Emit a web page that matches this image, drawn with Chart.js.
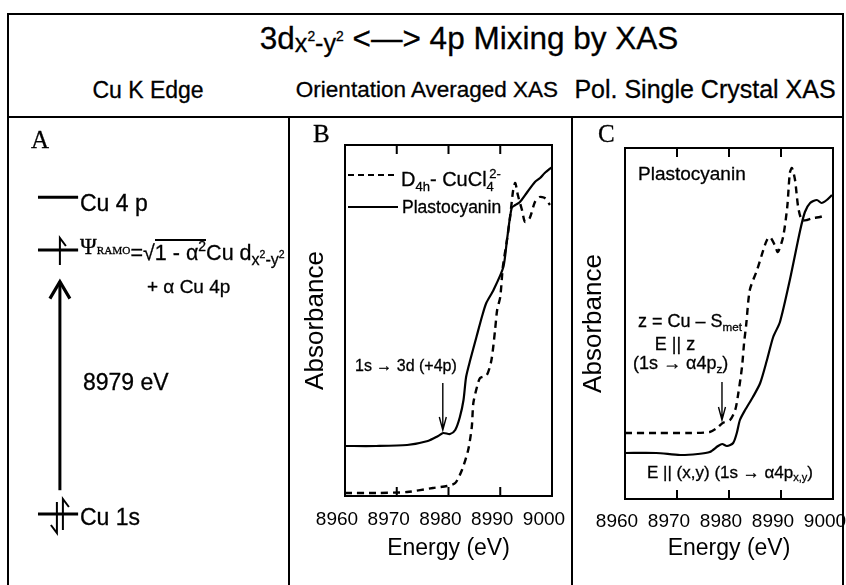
<!DOCTYPE html>
<html>
<head>
<meta charset="utf-8">
<script src="https://cdn.jsdelivr.net/npm/chart.js@4.4.1/dist/chart.umd.min.js"></script>
<style>
html, body { margin: 0; padding: 0; background: #fff; }
#fig { position: relative; width: 846px; height: 585px; overflow: hidden; font-family: 'Liberation Sans', Arial, sans-serif; color: #000; }
.ln { position: absolute; background: #000; }
.t { position: absolute; white-space: nowrap; line-height: 1; -webkit-text-stroke: 0.3px #000; }
.serif { font-family: 'Liberation Serif', 'Times New Roman', serif; }
.sub { font-size: 0.65em; position: relative; top: 0.35em; }
.sup { font-size: 0.65em; position: relative; top: -0.6em; }
canvas { position: absolute; }
</style>
</head>
<body>
<div id="fig">
  <!-- frame -->
  <div class="ln" style="left:7px;top:13px;width:837px;height:2px"></div>
  <div class="ln" style="left:7px;top:13px;width:2px;height:600px"></div>
  <div class="ln" style="left:842px;top:13px;width:2px;height:600px"></div>
  <div class="ln" style="left:7px;top:116px;width:837px;height:2px"></div>
  <div class="ln" style="left:288px;top:116px;width:2px;height:500px"></div>
  <div class="ln" style="left:571px;top:116px;width:2px;height:500px"></div>

  <canvas id="chartA" width="278" height="467" style="left:10px;top:118px"></canvas>
  <canvas id="chartB" width="283" height="468" style="left:289px;top:117px"></canvas>
  <canvas id="chartC" width="274" height="468" style="left:572px;top:117px"></canvas>
</div>

<script>
// --- data ---
// panel A: schematic levels (arbitrary energy units)
const levelNames = ['Cu 1s', 'Ψ RAMO', 'Cu 4p'];
const levelEnergy = [0, 10, 12];
const levelElectrons = [2, 1, 0];

// panel B: orientation averaged Cu K edge
const bCuclE = [8960, 8966, 8972, 8977, 8979.7, 8981.3, 8982.6, 8983.8, 8984.5, 8984.8, 8985.5, 8986.1, 8987.4, 8988.3, 8989.0, 8989.4, 8990.0, 8990.5, 8991.3, 8991.9, 8992.5, 8992.9, 8993.4, 8994.2, 8994.8, 8995.7, 8996.7, 8997.6, 8998.6, 8999.6];
const bCuclA = [0.03, 0.03, 0.04, 0.08, 0.10, 0.13, 0.26, 0.46, 0.69, 0.93, 1.09, 1.18, 1.21, 1.36, 1.66, 1.86, 1.99, 2.29, 2.56, 2.79, 3.06, 3.13, 3.01, 2.86, 2.74, 2.78, 2.94, 2.99, 2.98, 2.91];
const bPcE = [8960, 8966, 8972, 8976, 8978, 8979, 8980.3, 8981.3, 8982.2, 8982.9, 8983.4, 8984.2, 8985.4, 8986.5, 8987.3, 8988.7, 8990.6, 8991.3, 8992.2, 8992.9, 8993.8, 8995.1, 8996.7, 8997.7, 8998.6, 9000];
const bPcA = [0.50, 0.50, 0.51, 0.55, 0.60, 0.63, 0.62, 0.66, 0.79, 0.96, 1.19, 1.36, 1.59, 1.80, 1.93, 2.06, 2.29, 2.56, 2.88, 2.91, 2.94, 3.03, 3.14, 3.18, 3.23, 3.29];

// panel C: polarized single crystal (plastocyanin)
const cZE = [8960, 8966, 8972, 8976.3, 8977.7, 8978.8, 8980.2, 8981.2, 8981.8, 8982.5, 8982.9, 8983.3, 8984.0, 8985.4, 8986.6, 8987.3, 8987.9, 8988.8, 8989.4, 8990.4, 8991.2, 8991.7, 8992.1, 8992.7, 8993.3, 8994.0, 8995.0, 8996.2, 8997.5, 8998.8];
const cZA = [0.66, 0.66, 0.66, 0.67, 0.71, 0.76, 0.79, 0.89, 1.06, 1.32, 1.56, 1.74, 2.09, 2.29, 2.49, 2.59, 2.62, 2.54, 2.47, 2.62, 2.92, 3.26, 3.31, 3.19, 2.92, 2.79, 2.79, 2.81, 2.82, 2.84];
const cXyE = [8960, 8966, 8970.6, 8974, 8976.3, 8977.9, 8978.7, 8979.6, 8980.8, 8981.5, 8982.1, 8983.1, 8984.6, 8986, 8987.3, 8988.5, 8989.8, 8991.7, 8993.7, 8994.6, 8995.6, 8996.9, 8997.8, 8998.8, 8999.8];
const cXyA = [0.46, 0.46, 0.44, 0.45, 0.47, 0.53, 0.55, 0.53, 0.56, 0.66, 0.79, 0.89, 1.02, 1.16, 1.39, 1.62, 1.77, 2.19, 2.69, 2.87, 2.96, 2.99, 2.96, 2.99, 3.04];

const energyTicks = [8960, 8970, 8980, 8990, 9000];
// pre-edge arrows: [energy, top, bottom]
const arrowB = [8978.9, 1.13, 0.66];
const arrowC = [8978.65, 1.17, 0.79];

// --- helpers ---
const pts = (xs, ys) => xs.map((x, i) => ({ x: x, y: ys[i] }));

Chart.defaults.font.family = "'Liberation Sans', Arial, sans-serif";
Chart.defaults.color = '#000';

function drawArrowDown(ctx, x, y1, y2) {
  ctx.save();
  ctx.strokeStyle = '#000';
  ctx.lineWidth = 1.4;
  ctx.beginPath();
  ctx.moveTo(x, y1); ctx.lineTo(x, y2);
  ctx.moveTo(x - 3.5, y2 - 13); ctx.lineTo(x, y2); ctx.lineTo(x + 3.5, y2 - 13);
  ctx.stroke();
  ctx.restore();
}

// box + inward ticks + arrow (+ optional legend samples)
const framePlugin = {
  id: 'frame',
  afterDatasetsDraw(chart, args, opts) {
    const { ctx, chartArea: a, scales } = chart;
    ctx.save();
    ctx.strokeStyle = '#000';
    ctx.lineWidth = 2;
    ctx.strokeRect(a.left, a.top, a.right - a.left, a.bottom - a.top);
    ctx.beginPath();
    energyTicks.slice(1, -1).forEach(v => {
      const x = scales.x.getPixelForValue(v);
      ctx.moveTo(x, a.top); ctx.lineTo(x, a.top + 9);
      ctx.moveTo(x, a.bottom); ctx.lineTo(x, a.bottom - 9);
    });
    ctx.stroke();
    if (opts.legend) {
      ctx.lineWidth = 2;
      ctx.setLineDash([6, 4]);
      ctx.beginPath();
      ctx.moveTo(a.left + 3, a.top + 30); ctx.lineTo(a.left + 53, a.top + 30);
      ctx.stroke();
      ctx.setLineDash([]);
      ctx.beginPath();
      ctx.moveTo(a.left + 3, a.top + 62); ctx.lineTo(a.left + 53, a.top + 62);
      ctx.stroke();
    }
    ctx.restore();
    const ar = opts.arrow;
    if (ar) {
      drawArrowDown(ctx, scales.x.getPixelForValue(ar[0]), scales.y.getPixelForValue(ar[1]), scales.y.getPixelForValue(ar[2]));
    }
  }
};

function xasChart(id, dashed, solid, cfg) {
  return new Chart(document.getElementById(id), {
    type: 'scatter',
    data: {
      datasets: [
        { data: dashed, showLine: true, borderColor: '#000', borderWidth: 2.4, borderDash: [7, 5], pointRadius: 0, tension: 0.25 },
        { data: solid, showLine: true, borderColor: '#000', borderWidth: 2.2, pointRadius: 0, tension: 0.25 }
      ]
    },
    options: {
      responsive: false,
      animation: false,
      devicePixelRatio: 1,
      layout: { padding: { top: cfg.top, right: cfg.right, left: 0, bottom: 0 } },
      plugins: { legend: { display: false }, tooltip: { enabled: false }, frame: { arrow: cfg.arrow, legend: cfg.legend } },
      scales: {
        x: {
          type: 'linear', min: 8960, max: 9000,
          afterBuildTicks: s => { s.ticks = energyTicks.map(v => ({ value: v })); },
          ticks: { color: '#000', font: { size: 19 }, padding: cfg.tickPad, labelOffset: -8, maxRotation: 0, autoSkip: false, callback: v => String(v) },
          grid: { display: false, drawTicks: false },
          border: { display: false },
          title: { display: true, text: 'Energy (eV)', color: '#000', font: { size: 23 }, padding: { top: 0, bottom: 23 } },
          afterFit: s => { s.height = cfg.xh; s.paddingLeft = 0; s.paddingRight = 0; }
        },
        y: {
          min: 0, max: 3.51,
          ticks: { display: false },
          grid: { display: false, drawTicks: false },
          border: { display: false },
          title: { display: true, text: 'Absorbance', color: '#000', font: { size: 26 }, padding: { top: cfg.yPad, bottom: 0 } },
          afterFit: s => { s.width = cfg.yw; s.paddingTop = 0; s.paddingBottom = 0; }
        }
      }
    },
    plugins: [framePlugin]
  });
}

xasChart('chartB', pts(bCuclE, bCuclA), pts(bPcE, bPcA),
  { top: 28, right: 20, xh: 89, yw: 56, tickPad: 12, yPad: 11, arrow: arrowB, legend: true });
xasChart('chartC', pts(cZE, cZA), pts(cXyE, cXyA),
  { top: 31, right: 13, xh: 86, yw: 53, tickPad: 11, yPad: 6, arrow: arrowC, legend: false });

// --- panel A: level diagram ---
const LEVEL_X0 = 1.06, LEVEL_X1 = 2.58, E_X = 1.89;
const levelPlugin = {
  id: 'levels',
  afterDatasetsDraw(chart) {
    const { ctx, scales } = chart;
    const x = scales.x.getPixelForValue(E_X);
    ctx.save();
    ctx.strokeStyle = '#000';
    ctx.lineWidth = 2;
    levelEnergy.forEach((e, i) => {
      const y = scales.y.getPixelForValue(e);
      ctx.beginPath();
      if (levelElectrons[i] === 1) {
        ctx.moveTo(x, y + 15); ctx.lineTo(x, y - 12); ctx.lineTo(x + 6, y - 4);
      } else if (levelElectrons[i] === 2) {
        ctx.moveTo(x + 3, y + 16); ctx.lineTo(x + 3, y - 15); ctx.lineTo(x + 9, y - 7);
        ctx.moveTo(x - 3, y - 12); ctx.lineTo(x - 3, y + 19); ctx.lineTo(x - 9, y + 11);
      }
      ctx.stroke();
    });
    // transition arrow head
    const meta = chart.getDatasetMeta(levelEnergy.length);
    const tip = meta.data[1];
    ctx.lineWidth = 3.2;
    ctx.beginPath();
    ctx.moveTo(tip.x - 10, tip.y + 17); ctx.lineTo(tip.x, tip.y); ctx.lineTo(tip.x + 10, tip.y + 17);
    ctx.stroke();
    ctx.restore();
  }
};

new Chart(document.getElementById('chartA'), {
  type: 'scatter',
  data: {
    datasets: levelEnergy.map(e => ({
      data: [{ x: LEVEL_X0, y: e }, { x: LEVEL_X1, y: e }],
      showLine: true, borderColor: '#000', borderWidth: 3, pointRadius: 0
    })).concat([{
      data: [{ x: E_X, y: levelEnergy[0] + 0.9 }, { x: E_X, y: levelEnergy[1] - 1.2 }],
      showLine: true, borderColor: '#000', borderWidth: 3, pointRadius: 0
    }])
  },
  options: {
    responsive: false,
    animation: false,
    devicePixelRatio: 1,
    layout: { padding: 0 },
    plugins: { legend: { display: false }, tooltip: { enabled: false } },
    scales: {
      x: { display: false, min: 0, max: 10.53 },
      y: { display: false, min: -2.69, max: 15.0 }
    }
  },
  plugins: [levelPlugin]
});

// --- text ---
const fig = document.getElementById('fig');
function txt(html, x, base, size, opt) {
  opt = opt || {};
  const d = document.createElement('div');
  d.className = 't' + (opt.serif ? ' serif' : '');
  d.style.fontSize = size + 'px';
  d.style.top = (base - (opt.serif ? 0.8375 : 0.8465) * size) + 'px';
  d.style.left = x + 'px';
  if (opt.center) d.style.transform = 'translateX(-50%)';
  d.innerHTML = html;
  fig.appendChild(d);
}

txt('3d<span style="font-size:0.8em;position:relative;top:0.12em">x<span style="font-size:0.55em;position:relative;top:-0.85em">2</span>-y<span style="font-size:0.55em;position:relative;top:-0.85em">2</span></span> &lt;—&gt; 4p Mixing by XAS', 469, 50, 31.5, { center: true });
txt('Cu K Edge', 148, 98, 23, { center: true });
txt('Orientation Averaged XAS', 427, 98, 22.5, { center: true });
txt('Pol. Single Crystal XAS', 705, 98, 25, { center: true });

txt('A', 31, 148, 25, { serif: true });
txt('B', 313, 142, 25, { serif: true });
txt('C', 598, 142, 25, { serif: true });

txt(levelNames[2].replace('4p', '4 p'), 80, 211, 23);
txt('<span class="serif" style="position:relative;top:-6px;font-size:1.05em">Ψ<span style="font-size:0.5em">RAMO</span></span>=√<span style="border-top:2px solid #000">1 - α<span class="sup">2</span></span>Cu d<span style="font-size:0.75em;position:relative;top:0.3em">x<span class="sup">2</span>-y<span class="sup">2</span></span>', 80, 260, 21.5);
txt('+ α Cu 4p', 147, 293, 19);
txt('8979 eV', 83, 390, 23);
txt(levelNames[0], 80, 525, 23);

txt('D<span class="sub">4h</span>- CuCl<span class="sub">4</span><span class="sup" style="margin-left:-0.36em">2-</span>', 401, 186, 20);
txt('Plastocyanin', 402, 214, 17.5);
txt('1s → 3d (+4p)', 355, 372, 16);

txt('Plastocyanin', 638, 180, 19);
txt('z = Cu – S<span class="sub">met</span>', 638, 327, 18);
txt('E || z', 675, 350, 18, { center: true });
txt('(1s → α4p<span class="sub">z</span>)', 633, 369, 18);
txt('E || (x,y) (1s → α4p<span class="sub">x,y</span>)', 647, 478, 17);
</script>
</body>
</html>
